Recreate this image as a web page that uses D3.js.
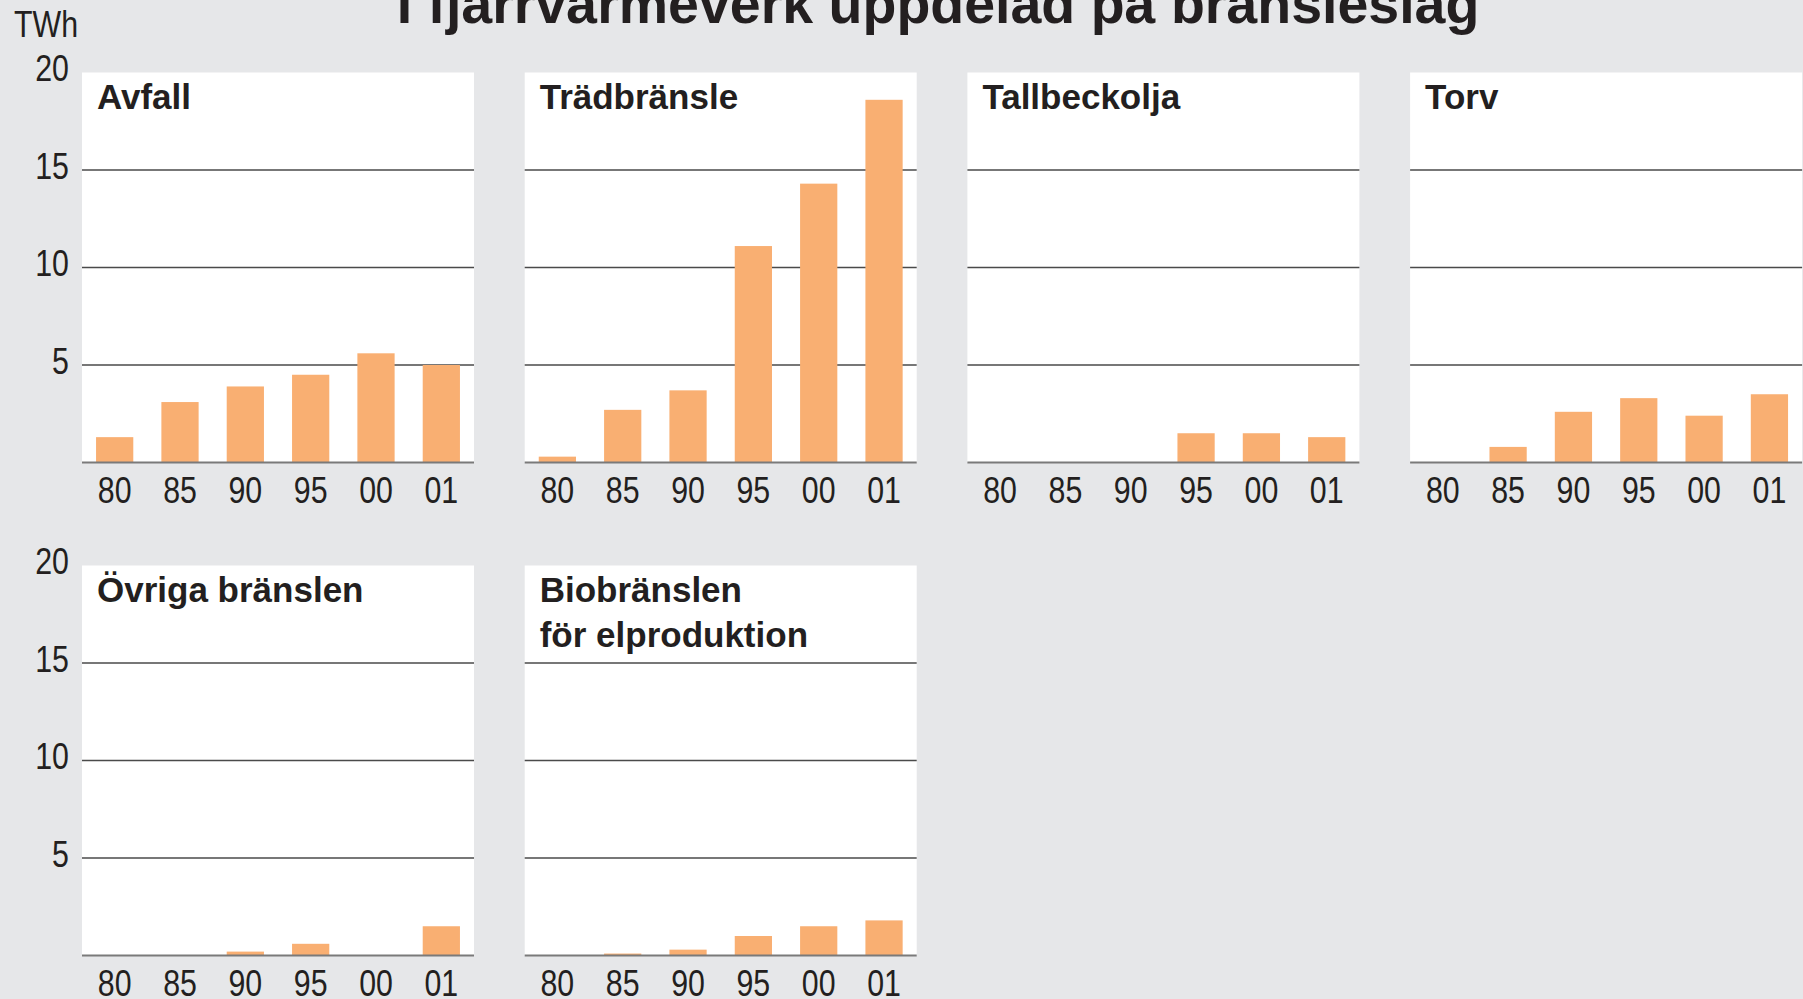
<!DOCTYPE html>
<html>
<head>
<meta charset="utf-8">
<script src="https://cdn.jsdelivr.net/npm/d3@7"></script>
<style>
  body { margin: 0; background: #e6e7e9; }
  svg { display: block; }
  .narrow { font-family: 'Liberation Sans', Arial, sans-serif; }
  .bold { font-family: 'Liberation Sans', Arial, sans-serif; font-weight: bold; }
</style>
</head>
<body>
<svg id="chart"></svg>
<script>
const width = 1803;
const height = 999;

const title = 'I fjärrvärmeverk uppdelad på bränsleslag';
const unit = 'TWh';
const years = ['80', '85', '90', '95', '00', '01'];
const yTicks = [5, 10, 15, 20];

// one array per fuel panel, TWh per year
const avfall = [1.3, 3.1, 3.9, 4.5, 5.6, 5.0];
const tradbransle = [0.3, 2.7, 3.7, 11.1, 14.3, 18.6];
const tallbeckolja = [0, 0, 0, 1.5, 1.5, 1.3];
const torv = [0, 0.8, 2.6, 3.3, 2.4, 3.5];
const ovriga = [0, 0, 0.2, 0.6, 0, 1.5];
const bioEl = [0, 0.1, 0.3, 1.0, 1.5, 1.8];

const panelNames = [['Avfall'], ['Trädbränsle'], ['Tallbeckolja'], ['Torv'],
                    ['Övriga bränslen'], ['Biobränslen', 'för elproduktion']];
const panelValues = [avfall, tradbransle, tallbeckolja, torv, ovriga, bioEl];

const ink = '#231f20';
const barColor = '#f9af72';
const squeeze = 'scale(0.82,1)'; // no narrow font installed, so squeeze the regular one

const panelLeft = 82;
const panelStep = 442.7;
const panelWidth = 392;
const rowBase = [462.5, 955.5];
const plotHeight = 390;

const svg = d3.select('#chart')
    .attr('width', width)
    .attr('height', height);

svg.append('rect')
    .attr('width', width).attr('height', height)
    .attr('fill', '#e6e7e9');

svg.append('text')
    .attr('class', 'bold')
    .attr('x', 938).attr('y', 23)
    .attr('text-anchor', 'middle')
    .attr('font-size', 55.5)
    .attr('fill', ink)
    .text(title);

svg.append('g')
    .attr('transform', 'translate(14, 37)')
    .append('text')
    .attr('class', 'narrow')
    .attr('transform', squeeze)
    .attr('font-size', 37)
    .attr('fill', ink)
    .text(unit);

const x = d3.scaleBand().domain(years).range([0, panelWidth])
    .paddingInner(0.43).paddingOuter(0.215);
const y = d3.scaleLinear().domain([0, 20]).range([plotHeight, 0]);

panelValues.forEach((vals, i) => {
    const col = i % 4;
    const row = Math.floor(i / 4);
    const g = svg.append('g')
        .attr('transform', `translate(${panelLeft + col * panelStep}, ${rowBase[row] - plotHeight})`);

    g.append('rect')
        .attr('width', panelWidth)
        .attr('height', plotHeight)
        .attr('fill', '#fff');

    // gridlines
    g.selectAll('.grid').data(yTicks.filter(t => t < 20)).enter()
        .append('line')
        .attr('x1', 0).attr('x2', panelWidth)
        .attr('y1', d => y(d)).attr('y2', d => y(d))
        .attr('stroke', '#4a4a4a')
        .attr('stroke-width', 1.4);

    g.selectAll('.bar').data(vals).enter()
        .append('rect')
        .attr('x', (d, j) => x(years[j]))
        .attr('width', x.bandwidth())
        .attr('y', d => y(d))
        .attr('height', d => y(0) - y(d))
        .attr('fill', barColor);

    g.append('line')
        .attr('x1', 0).attr('x2', panelWidth)
        .attr('y1', y(0)).attr('y2', y(0))
        .attr('stroke', '#7a7a7a')
        .attr('stroke-width', 2);

    const xAxis = g.append('g')
        .attr('transform', `translate(0, ${plotHeight})`)
        .call(d3.axisBottom(x).tickSize(0).tickPadding(6));
    xAxis.select('.domain').remove();
    xAxis.selectAll('text')
        .attr('class', 'narrow')
        .attr('font-size', 37)
        .attr('fill', ink)
        .attr('dy', '0.92em')
        .attr('transform', squeeze);

    if (col === 0) {
        const yAxis = g.append('g')
            .attr('transform', 'translate(-13, 0)')
            .call(d3.axisLeft(y).tickValues(yTicks).tickSize(0).tickPadding(0));
        yAxis.select('.domain').remove();
        yAxis.selectAll('text')
            .attr('class', 'narrow')
            .attr('font-size', 37)
            .attr('fill', ink)
            .attr('x', 0)
            .attr('dy', '0.22em')
            .attr('transform', squeeze);
    }

    panelNames[i].forEach((line, k) => {
        g.append('text')
            .attr('class', 'bold')
            .attr('x', 15)
            .attr('y', 36.5 + k * 45)
            .attr('font-size', 35)
            .attr('fill', ink)
            .text(line);
    });
});
</script>
</body>
</html>
